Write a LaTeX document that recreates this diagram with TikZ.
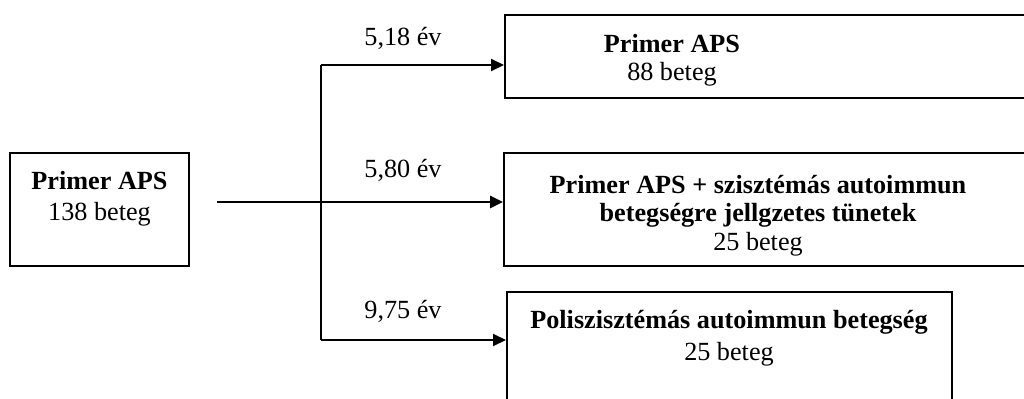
\documentclass[tikz,border=0pt]{standalone}
\usepackage{fontspec}
\setmainfont{Liberation Serif}
\usepackage{tikz}
\usetikzlibrary{positioning,arrows.meta}
\tikzset{
  box/.style ={draw=black, line width=1pt, inner sep=0pt},
  txt/.style ={anchor=base, align=center, inner sep=0pt},
  dur/.style ={anchor=base, inner sep=0pt, font=\fontsize{13.1}{15}\selectfont},
  line/.style={line width=1pt},
  arr/.style ={-{Triangle[length=6.5pt,width=6pt]}, line width=1pt},
}

\begin{document}
\begin{tikzpicture}[x=0.5pt,y=-0.5pt]
  \useasboundingbox (0,0) rectangle (1024,398);
  \clip (0,0) rectangle (1024,398);
  % boxes
  \node[box,minimum width=89.5pt,minimum height=56.5pt]  (src) at (99.5,209.5) {};
  \node[box,minimum width=277.5pt,minimum height=41.5pt] (top) at (782.5,56.5) {};
  \node[box,minimum width=278pt,minimum height=56.5pt]   (mid) at (782,209.5) {};
  \node[box,minimum width=222.5pt,minimum height=69pt]   (bot) at (729.5,361) {};
  % texts (base = last line)
  \node[txt,font=\fontsize{13.1}{15.5}\selectfont] (srctxt) at (99.5,220) {\textbf{Primer APS}\\138 beteg};
  \node[txt,font=\fontsize{13.1}{14}\selectfont]   (toptxt) at (672,80) {\textbf{Primer APS}\\88 beteg};
  \node[txt,font=\fontsize{13.1}{14.25}\selectfont] (midtxt) at (758,250) {\textbf{Primer APS + szisztémás autoimmun}\\\textbf{betegségre jellgzetes tünetek}\\25 beteg};
  \node[txt,font=\fontsize{13.1}{16}\selectfont]   (bottxt) at (729,360) {\textbf{Poliszisztémás autoimmun betegség}\\25 beteg};
  % durations
  \node[dur] (d1) at (403,45)  {5,18 év};
  \node[dur] (d2) at (403,177) {5,80 év};
  \node[dur] (d3) at (403,318) {9,75 év};
  % connectors
  \coordinate (start) at (217,202);
  \coordinate (up)    at (321,65);
  \coordinate (down)  at (321,340);
  \draw[line] (up) -- (down);
  \draw[arr,line width=1.3pt] (start) -- (start -| mid.west);
  \draw[arr] (up) -- (up -| top.west);
  \draw[arr] (down) -- (down -| bot.west);
\end{tikzpicture}
\end{document}
